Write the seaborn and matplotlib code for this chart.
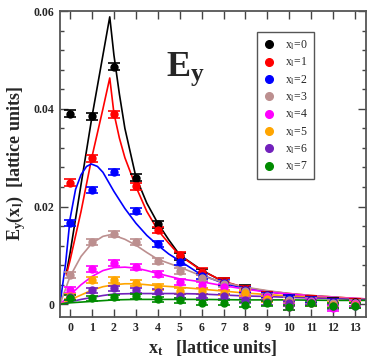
import numpy as np
import pandas as pd
import matplotlib
matplotlib.use("Agg")
import matplotlib.pyplot as plt
from matplotlib.lines import Line2D
import seaborn as sns

# ---------------- data ----------------
xt = list(range(14))
labels = ["0", "1", "2", "3", "4", "5", "6", "7"]
colors = ["#000000", "#ff0000", "#0000ff", "#bc8f8f", "#ff00ff", "#ffa500", "#7221bc", "#008b00"]

pts_0 = [0.0390, 0.0385, 0.0486, 0.0259, 0.0164, 0.0098, 0.0066, 0.0046, 0.0032, 0.0018, 0.0012, 0.0009, 0.0005, 0.0004]
pts_1 = [0.0249, 0.0299, 0.0389, 0.0241, 0.0152, 0.0100, 0.0067, 0.0046, 0.0031, 0.0019, 0.0011, 0.0009, 0.0004, 0.0003]
pts_2 = [0.0166, 0.0234, 0.0271, 0.0191, 0.0123, 0.0087, 0.0057, 0.0043, 0.0029, 0.0018, 0.0013, 0.0008, 0.0004, 0.0002]
pts_3 = [0.0060, 0.0128, 0.0143, 0.0128, 0.0088, 0.0068, 0.0054, 0.0041, 0.0027, 0.0016, 0.0009, 0.0006, 0.0003, 0.0002]
pts_4 = [0.0029, 0.0072, 0.0085, 0.0077, 0.0062, 0.0046, 0.0040, 0.0036, 0.0022, 0.0014, -0.0005, 0.0004, -0.0008, 0.0001]
pts_5 = [0.0016, 0.0050, 0.0050, 0.0044, 0.0036, 0.0028, 0.0028, 0.0024, 0.0023, 0.0010, 0.0003, 0.0002, -0.0002, -0.0001]
pts_6 = [0.0014, 0.0029, 0.0033, 0.0029, 0.0026, 0.0017, 0.0017, 0.0016, 0.0008, 0.0004, 0.0002, 0.0003, -0.0004, -0.0003]
pts_7 = [0.0013, 0.0012, 0.0014, 0.0016, 0.0010, 0.0008, 0.0003, 0.0003, -0.0001, 0.0002, -0.0006, 0.0002, -0.0003, -0.0003]
errs = [0.0007, 0.0007, 0.0006, 0.0006, 0.0006, 0.0006, 0.0005, 0.0005]

# fitted curves
cx_0 = [-0.17, 0.0, 0.5, 1.0, 1.5, 1.81, 2.0, 2.25, 2.5, 3.0, 3.5, 4.0, 4.5, 5, 6, 7, 8, 9, 10, 11, 12, 13, 13.5]
cy_0 = [0.0063, 0.0105, 0.0245, 0.0384, 0.0510, 0.0588, 0.0510, 0.0430, 0.0360, 0.0261, 0.0207, 0.0166, 0.0132, 0.0101, 0.0070, 0.0046, 0.0033, 0.0026, 0.0021, 0.0017, 0.0014, 0.0011, 0.0010]
cx_1 = [-0.17, 0.0, 0.5, 1.0, 1.5, 1.81, 2.0, 2.25, 2.5, 3.0, 3.5, 4.0, 4.5, 5, 6, 7, 8, 9, 10, 11, 12, 13, 13.5]
cy_1 = [0.0060, 0.0090, 0.0190, 0.0302, 0.0400, 0.0463, 0.0391, 0.0340, 0.0300, 0.0241, 0.0190, 0.0152, 0.0125, 0.0100, 0.0069, 0.0047, 0.0034, 0.0027, 0.0022, 0.0018, 0.0015, 0.0012, 0.0011]
cx_2 = [-0.46, -0.2, 0.0, 0.25, 0.5, 0.75, 0.97, 1.25, 1.5, 2.0, 2.5, 3.0, 3.5, 4.0, 4.5, 5, 6, 7, 8, 9, 10, 11, 12, 13, 13.5]
cy_2 = [0.0000, 0.0085, 0.0175, 0.0235, 0.0265, 0.0282, 0.0287, 0.0282, 0.0270, 0.0231, 0.0196, 0.0166, 0.0141, 0.0121, 0.0103, 0.0089, 0.0060, 0.0043, 0.0032, 0.0026, 0.0021, 0.0017, 0.0014, 0.0011, 0.0010]
cx_3 = [-0.46, 0.0, 0.5, 1.0, 1.5, 1.8, 2.0, 2.5, 3.0, 3.5, 4.0, 4.5, 5, 6, 7, 8, 9, 10, 11, 12, 13, 13.5]
cy_3 = [0.0000, 0.0057, 0.0098, 0.0125, 0.0139, 0.0142, 0.0141, 0.0133, 0.0121, 0.0106, 0.0092, 0.0084, 0.0076, 0.0058, 0.0045, 0.0035, 0.0028, 0.0022, 0.0018, 0.0015, 0.0012, 0.0011]
cx_4 = [-0.46, 0.0, 0.5, 1.0, 1.5, 2.0, 2.5, 3.0, 3.5, 4.0, 5, 6, 7, 8, 9, 10, 11, 12, 13, 13.5]
cy_4 = [0.0000, 0.0019, 0.0040, 0.0057, 0.0069, 0.0075, 0.0076, 0.0074, 0.0069, 0.0063, 0.0052, 0.0046, 0.0038, 0.0031, 0.0025, 0.0021, 0.0017, 0.0014, 0.0012, 0.0011]
cx_5 = [-0.46, 0.0, 0.5, 1.0, 1.5, 2.0, 2.5, 3.0, 4.0, 5, 6, 7, 8, 9, 10, 11, 12, 13, 13.5]
cy_5 = [0.0000, 0.0009, 0.0019, 0.0029, 0.0036, 0.0040, 0.0042, 0.0042, 0.0038, 0.0035, 0.0031, 0.0027, 0.0023, 0.0020, 0.0017, 0.0015, 0.0013, 0.0011, 0.0010]
cx_6 = [-0.46, 0.0, 0.5, 1.0, 1.5, 2.0, 3.0, 4.0, 5, 6, 7, 8, 9, 10, 11, 12, 13, 13.5]
cy_6 = [0.0000, 0.0005, 0.0010, 0.0014, 0.0018, 0.0021, 0.0022, 0.0022, 0.0022, 0.0021, 0.0019, 0.0017, 0.0016, 0.0014, 0.0013, 0.0012, 0.0010, 0.0010]
cx_7 = [-0.46, 0.0, 1.0, 2.0, 3.0, 4.0, 5, 6, 8, 10, 12, 13.5]
cy_7 = [0.0000, 0.0003, 0.0006, 0.0009, 0.0010, 0.0010, 0.0010, 0.0010, 0.0009, 0.0009, 0.0008, 0.0008]

points = [pts_0, pts_1, pts_2, pts_3, pts_4, pts_5, pts_6, pts_7]
curves = [(cx_0, cy_0), (cx_1, cy_1), (cx_2, cy_2), (cx_3, cy_3),
          (cx_4, cy_4), (cx_5, cy_5), (cx_6, cy_6), (cx_7, cy_7)]

xtick_vals = list(range(14))
ytick_vals = [0, 0.02, 0.04, 0.06]
ytick_labels = ["0", "0.02", "0.04", "0.06"]

# ---------------- style ----------------
sns.set_style("ticks")
plt.rcParams["font.family"] = ["Liberation Serif", "DejaVu Serif"]
plt.rcParams["mathtext.fontset"] = "custom"
plt.rcParams["mathtext.rm"] = "Liberation Serif"
plt.rcParams["mathtext.it"] = "Liberation Serif:italic"
plt.rcParams["mathtext.bf"] = "Liberation Serif:bold"

fig = plt.figure(figsize=(3.74, 3.62), dpi=100)
ax = fig.add_axes([0.1604, 0.1251, 0.8182, 0.8445])

for i in range(8):
    cx, cy = curves[i]
    dfc = pd.DataFrame({"x": cx, "y": cy})
    sns.lineplot(data=dfc, x="x", y="y", ax=ax, color=colors[i], lw=1.2,
                 sort=False, estimator=None, zorder=2 + i * 0.01)

for i in range(8):
    ax.errorbar(xt, points[i], yerr=errs[i], fmt="o", color=colors[i],
                ms=5, capsize=4.5, elinewidth=1.2, capthick=1.2, zorder=3 + i * 0.01)

ax.set_xlim(-0.46, 13.5)
ax.set_ylim(-0.00254, 0.06)
ax.set_xticks(xtick_vals)
ax.set_xticklabels([str(v) for v in xtick_vals], fontsize=8.5, fontweight="bold")
ax.set_yticks(ytick_vals)
ax.set_yticklabels(ytick_labels, fontsize=8.5, fontweight="bold")
ax.set_yticks(np.arange(0, 0.0601, 0.004), minor=True)
ax.tick_params(which="both", direction="in", top=True, right=True, color="#444444")
ax.tick_params(which="major", length=5.5, width=1.0, pad=4)
ax.tick_params(which="minor", length=3, width=1.0)
ax.tick_params(axis="x", which="minor", bottom=False, top=False)
for s in ax.spines.values():
    s.set_linewidth(1.3)
    s.set_color("#555555")

ax.set_xlabel(r"$\mathbf{x_t}$   [lattice units]", fontsize=13, fontweight="bold", labelpad=3)
ax.set_ylabel(r"$\mathbf{E_y(x_l)}$  [lattice units]", fontsize=13, fontweight="bold", labelpad=4)

ax.text(0.345, 0.872, r"$\mathbf{E_y}$", transform=ax.transAxes, fontsize=26,
        va="top", ha="left")

handles = [Line2D([0], [0], marker="o", ls="none", color=colors[i], ms=5.5) for i in range(8)]
leg_labels = [r"x$_\mathrm{l}$=" + l for l in labels]
leg = ax.legend(handles, leg_labels, loc="upper left", bbox_to_anchor=(0.643, 0.930),
                fontsize=8.5, frameon=True, fancybox=False, framealpha=1,
                edgecolor="#555555", handlelength=1.0, handletextpad=0.9,
                labelspacing=0.3, borderpad=0.5, borderaxespad=0)
leg.get_frame().set_linewidth(1.0)

fig.savefig("out.png", dpi=100)
